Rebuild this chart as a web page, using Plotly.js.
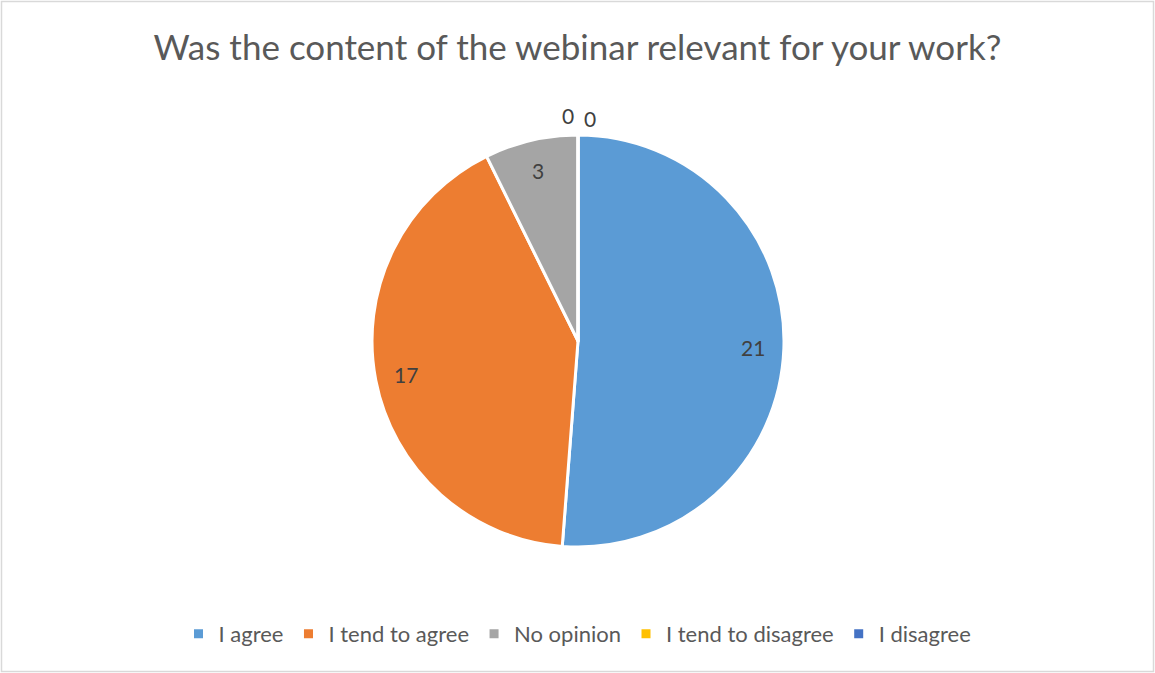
<!DOCTYPE html>
<html>
<head>
<meta charset="utf-8">
<script src="https://cdn.plot.ly/plotly-3.0.1.min.js"></script>
<style>
  html, body { margin: 0; padding: 0; background: #ffffff; }
  #chart { width: 1155px; height: 673px; }
</style>
</head>
<body>
<div id="chart"></div>
<script>
// Survey answers: "Was the content of the webinar relevant for your work?"
const categories = ["I agree", "I tend to agree", "No opinion", "I tend to disagree", "I disagree"];
const counts = [21, 17, 3, 0, 0];
const sliceColors = ["#5B9BD5", "#ED7D31", "#A5A5A5", "#FFC000", "#4472C4"];

const W = 1155, H = 673;
const cx = 578, cy = 341, R = 206;
const textColor = "#595959";
const labelColor = "#404040";
const fontFamily = "Lato, 'Open Sans', sans-serif";

// Value labels placed along each slice's mid-angle (clockwise from 12 o'clock)
const total = counts.reduce((a, b) => a + b, 0);
const annotations = [];
let acc = 0;
let zeroIndex = 0;
counts.forEach((v, i) => {
  const start = acc / total * 2 * Math.PI;
  acc += v;
  const end = acc / total * 2 * Math.PI;
  const mid = (start + end) / 2;
  let r, dx = 0, dy = 0;
  if (v === 0) {
    // empty slices sit at 12 o'clock; their labels go just outside the rim
    r = R + 18;
    dx = zeroIndex === 0 ? -10 : 12;
    dy = zeroIndex === 0 ? -2 : 1;
    zeroIndex++;
  } else {
    r = R * 0.85;
  }
  const px = cx + r * Math.sin(mid) + dx;
  const py = cy - r * Math.cos(mid) + dy;
  annotations.push({
    x: px / W, y: 1 - py / H, xref: "paper", yref: "paper",
    text: String(v), showarrow: false,
    font: { family: fontFamily, size: 21, color: labelColor },
    xanchor: "center", yanchor: "middle"
  });
});

const trace = {
  type: "pie",
  labels: categories,
  values: counts,
  sort: false,
  direction: "clockwise",
  rotation: 0,
  marker: { colors: sliceColors, line: { color: "#ffffff", width: 3 } },
  textinfo: "none",
  hoverinfo: "label+value",
  domain: { x: [(cx - R) / W, (cx + R) / W], y: [1 - (cy + R) / H, 1 - (cy - R) / H] }
};

const layout = {
  width: W, height: H,
  margin: { l: 0, r: 0, t: 0, b: 0 },
  paper_bgcolor: "#ffffff",
  title: {
    text: "Was the content of the webinar relevant for your work?",
    font: { family: fontFamily, size: 35, color: textColor },
    x: 0.5, xanchor: "center", y: 1 - 48 / H, yanchor: "middle", yref: "container"
  },
  showlegend: true,
  legend: {
    orientation: "h", x: 0.5, xanchor: "center", y: 1 - 634 / H, yanchor: "middle",
    font: { family: fontFamily, size: 22, color: textColor },
    traceorder: "normal"
  },
  annotations: annotations,
  shapes: [{
    type: "rect", xref: "paper", yref: "paper",
    x0: 1.5 / W, x1: 1 - 1.5 / W, y0: 1.5 / H, y1: 1 - 1.5 / H,
    line: { color: "#d9d9d9", width: 1.5 }
  }]
};

Plotly.newPlot("chart", [trace], layout, { staticPlot: true, displayModeBar: false });
</script>
</body>
</html>
